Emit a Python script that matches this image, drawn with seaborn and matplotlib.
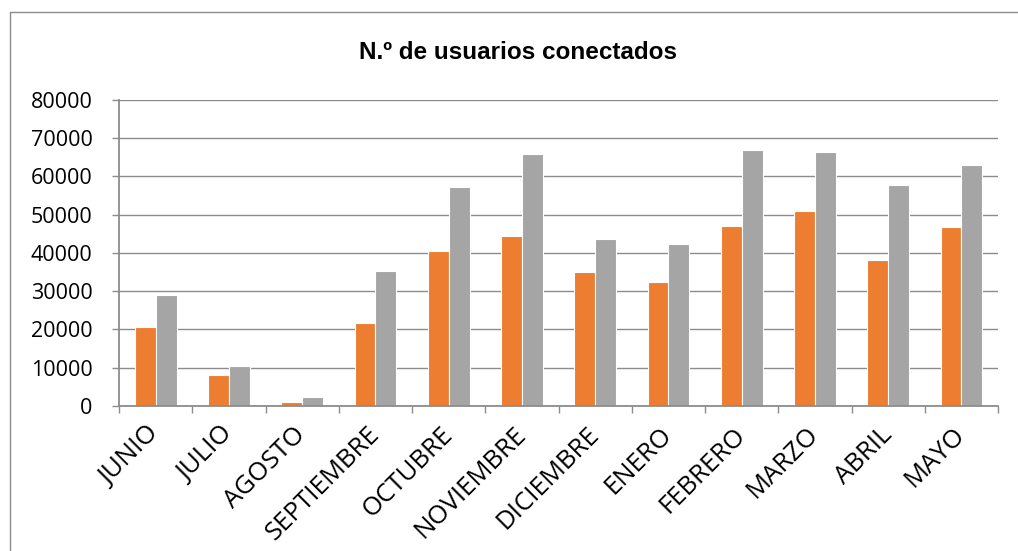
import pandas as pd
import matplotlib
matplotlib.use("Agg")
import matplotlib.pyplot as plt
import seaborn as sns

sns.set_theme(style="white")
plt.rcParams['font.family'] = ['Open Sans', 'DejaVu Sans']
plt.rcParams['text.color'] = 'black'
plt.rcParams['xtick.color'] = 'black'
plt.rcParams['ytick.color'] = 'black'

meses = ['JUNIO', 'JULIO', 'AGOSTO', 'SEPTIEMBRE', 'OCTUBRE', 'NOVIEMBRE',
         'DICIEMBRE', 'ENERO', 'FEBRERO', 'MARZO', 'ABRIL', 'MAYO']
serie_1 = [20650, 8020, 960, 21700, 40440, 44360, 35030, 32330, 46970, 50890, 38260, 46800]
serie_2 = [29100, 10460, 2350, 35380, 57340, 65970, 43570, 42350, 67020, 66400, 57870, 63090]
series = ['Serie 1', 'Serie 2']
colores = ['#ED7D31', '#A5A5A5']

df = pd.DataFrame({'Mes': meses * 2,
                   'Usuarios': serie_1 + serie_2,
                   'Serie': [series[0]] * len(meses) + [series[1]] * len(meses)})

fig = plt.figure(figsize=(10.18, 5.51), dpi=100)
ax = fig.add_axes([0.1169, 0.2632, 0.9804 - 0.1169, 0.8185 - 0.2632])

sns.barplot(data=df, x='Mes', y='Usuarios', hue='Serie', palette=colores,
            width=0.57, saturation=1, edgecolor='white', linewidth=0.8,
            legend=False, ax=ax)

ax.set_ylim(0, 80000)
ax.set_xlim(-0.5, len(meses) - 0.5)
ax.set_yticks(range(0, 80001, 10000))
ax.yaxis.grid(True, color='#8C8C8C', linewidth=1)
ax.set_axisbelow(True)
ax.set_xlabel('')
ax.set_ylabel('')

for lado in ['top', 'right']:
    ax.spines[lado].set_visible(False)
for lado in ['left', 'bottom']:
    ax.spines[lado].set_color('#8C8C8C')
    ax.spines[lado].set_linewidth(1.3)

# ticks del eje x entre categorias
ax.set_xticks([i + 0.5 for i in range(-1, len(meses))], minor=True)
ax.tick_params(axis='x', which='minor', length=5, width=1, color='#8C8C8C', direction='out', bottom=True)
ax.tick_params(axis='x', which='major', length=0, pad=18, labelsize=18.5)
ax.tick_params(axis='y', length=5, width=1, color='#8C8C8C', direction='out', left=True, pad=14, labelsize=15.5)
plt.setp(ax.get_xticklabels(), rotation=45, ha='right', va='center', rotation_mode='anchor')

fig.text(0.509, 0.905, 'N.º de usuarios conectados', ha='center', va='center',
         fontsize=17.5, fontweight='bold', family=['Liberation Sans Narrow', 'Liberation Sans', 'DejaVu Sans'])

# marco del grafico
fig.add_artist(plt.Line2D([10 / 1018, 10 / 1018], [0, 1 - 12 / 551], transform=fig.transFigure, color='#8C8C8C', linewidth=1))
fig.add_artist(plt.Line2D([10 / 1018, 1], [1 - 12 / 551, 1 - 12 / 551], transform=fig.transFigure, color='#8C8C8C', linewidth=1))

plt.savefig('out.png', dpi=100)
